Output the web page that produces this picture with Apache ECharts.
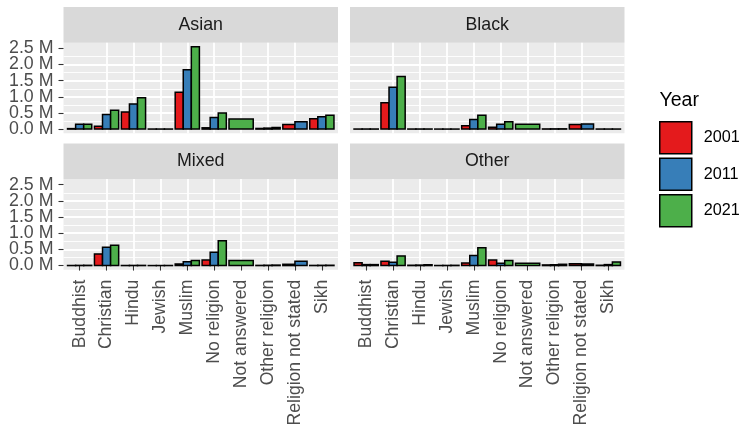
<!DOCTYPE html>
<html>
<head>
<meta charset="utf-8">
<script src="https://cdn.jsdelivr.net/npm/echarts@6/dist/echarts.min.js"></script>
<style>html,body{margin:0;padding:0;background:#fff}#c{width:743px;height:431px}</style>
</head>
<body>
<div id="c"></div>
<script>
const categories = ['Buddhist','Christian','Hindu','Jewish','Muslim','No religion','Not answered','Other religion','Religion not stated','Sikh'];
const years = ['2001','2011','2021'];
const facets = ['Asian','Black','Mixed','Other'];
const yTicks = [0, 500000, 1000000, 1500000, 2000000, 2500000];

const asian2001 = [15000, 90000, 530000, 2000, 1140000, 40000, null, 20000, 140000, 320000];
const asian2011 = [150000, 450000, 780000, 2000, 1840000, 360000, null, 30000, 230000, 380000];
const asian2021 = [150000, 580000, 970000, 2000, 2550000, 500000, 310000, 50000, null, 430000];

const black2001 = [2000, 820000, 2000, 1000, 100000, 55000, null, 5000, 140000, 2000];
const black2011 = [3000, 1300000, 3000, 1000, 300000, 150000, null, 7000, 160000, 2000];
const black2021 = [3000, 1630000, 3000, 1000, 430000, 230000, 150000, 8000, null, 2000];

const mixed2001 = [3000, 360000, 3000, 1000, 50000, 170000, null, 6000, 40000, 5000];
const mixed2011 = [6000, 570000, 5000, 2000, 120000, 410000, null, 10000, 130000, 8000];
const mixed2021 = [8000, 630000, 6000, 3000, 160000, 770000, 160000, 15000, null, 10000];

const other2001 = [90000, 130000, 10000, 3000, 80000, 170000, null, 20000, 55000, 10000];
const other2011 = [30000, 100000, 15000, 5000, 310000, 70000, null, 25000, 50000, 30000];
const other2021 = [30000, 300000, 25000, 8000, 550000, 160000, 70000, 40000, null, 110000];

const facetValues = [
  [asian2001, asian2011, asian2021],
  [black2001, black2011, black2021],
  [mixed2001, mixed2011, mixed2021],
  [other2001, other2011, other2021]
];
const yearColors = ['#E41A1C', '#377EB8', '#4DAF4A'];
const FONT = "'Liberation Sans', Arial, Helvetica, sans-serif";

// ggplot-like limits
let vmax = 0;
facetValues.forEach(f => f.forEach(a => a.forEach(v => { if (v != null && v > vmax) vmax = v; })));
const yMin = -0.05 * vmax, yMax = vmax * 1.05;
const xMin = 0.4, xMax = categories.length + 0.6;
const xTicks = categories.map((c, i) => i + 1);
const yTicksEven = yTicks.filter((t, k) => k % 2 === 0);
const yTicksOdd = yTicks.filter((t, k) => k % 2 === 1);

const panels = [
  {left: 63.5, top: 42.7, width: 274.5, height: 90.5},
  {left: 350, top: 42.7, width: 274.5, height: 90.5},
  {left: 63.5, top: 179, width: 274.5, height: 90.7},
  {left: 350, top: 179, width: 274.5, height: 90.7}
];
const stripH = 35.6;
const yLabelStyle = {margin: 10, fontSize: 17.8, color: '#4D4D4D', fontFamily: FONT, hideOverlap: false,
  formatter: v => (v / 1e6).toFixed(1) + ' M'};

const grids = [], xAxes = [], yAxes = [], series = [], graphics = [];
panels.forEach((p, i) => {
  const isLeft = i % 2 === 0, isBottom = i >= 2;
  grids.push({left: p.left, top: p.top, width: p.width, height: p.height, show: true, backgroundColor: '#EBEBEB', borderWidth: 0, containLabel: false});
  xAxes.push({
    type: 'value', gridIndex: i, min: xMin, max: xMax, splitNumber: 10,
    axisLine: {show: false},
    axisTick: {show: isBottom, length: 5, customValues: xTicks, lineStyle: {color: '#333333', width: 1.1}},
    axisLabel: {show: isBottom, customValues: xTicks, rotate: 90, margin: 10, fontSize: 17.6, color: '#4D4D4D', fontFamily: FONT,
      hideOverlap: false,
      formatter: v => categories[Math.round(v) - 1] || ''},
    splitLine: {show: true, showMinLine: false, showMaxLine: false, lineStyle: {color: '#FFFFFF', width: 1.8}}
  });
  const mainY = yAxes.length;
  yAxes.push({
    type: 'value', gridIndex: i, min: yMin, max: yMax, splitNumber: 5, position: 'left',
    axisLine: {show: false},
    axisTick: {show: isLeft, length: 5, customValues: yTicks, lineStyle: {color: '#333333', width: 1.1}},
    axisLabel: Object.assign({show: isLeft, customValues: yTicksEven}, yLabelStyle),
    splitLine: {show: true, showMinLine: false, showMaxLine: false, lineStyle: {color: '#FFFFFF', width: 1.8}},
    minorTick: {show: false, splitNumber: 2},
    minorSplitLine: {show: true, lineStyle: {color: '#FFFFFF', width: 0.9}}
  });
  // second left axis in the same panel carrying the other half of the tick labels
  yAxes.push({
    type: 'value', gridIndex: i, min: yMin, max: yMax, splitNumber: 5, position: 'left', offset: 0,
    axisLine: {show: false}, axisTick: {show: false}, splitLine: {show: false},
    axisLabel: Object.assign({show: isLeft, customValues: yTicksOdd}, yLabelStyle)
  });
  // strip
  graphics.push({type: 'rect', shape: {x: p.left, y: p.top - stripH, width: p.width, height: stripH}, style: {fill: '#D9D9D9'}, silent: true});
  graphics.push({type: 'text', x: p.left + p.width / 2, y: p.top - stripH / 2, style: {text: facets[i], fill: '#1A1A1A', font: '17.8px ' + FONT, align: 'center', verticalAlign: 'middle'}, silent: true});

  const vals = facetValues[i];
  years.forEach((yr, yi) => {
    const data = [];
    categories.forEach((c, ci) => {
      const v = vals[yi][ci];
      if (v == null) return;
      const present = [0, 1, 2].filter(k => vals[k][ci] != null);
      data.push([ci + 1, v, present.indexOf(yi), present.length]);
    });
    series.push({
      type: 'custom', name: yr, xAxisIndex: i, yAxisIndex: mainY, data: data,
      itemStyle: {color: yearColors[yi], borderColor: '#000', borderWidth: 1.5},
      encode: {x: 0, y: 1},
      renderItem: (params, api) => {
        const x = api.value(0), v = api.value(1), slot = api.value(2), n = api.value(3);
        const w = 0.9 / n;
        const x0 = x - 0.45 + slot * w;
        const a = api.coord([x0, v]);
        const b = api.coord([x0 + w, 0]);
        return {type: 'rect', shape: {x: a[0], y: a[1], width: b[0] - a[0], height: b[1] - a[1]},
          style: {fill: yearColors[yi], stroke: '#000', lineWidth: 1.5}};
      }
    });
  });
});

graphics.push({type: 'text', x: 659.5, y: 100.5, style: {text: 'Year', fill: '#000', font: '19.5px ' + FONT, align: 'left', verticalAlign: 'middle'}, silent: true});

const chart = echarts.init(document.getElementById('c'), null, {renderer: 'canvas'});
chart.setOption({
  animation: false,
  backgroundColor: '#FFFFFF',
  grid: grids, xAxis: xAxes, yAxis: yAxes, series: series,
  legend: {
    data: years.map((y, i) => ({name: y, icon: 'rect', itemStyle: {color: yearColors[i], borderColor: '#000', borderWidth: 1.5}})),
    orient: 'vertical', left: 659, top: 121, itemWidth: 32, itemHeight: 32, itemGap: 3,
    selectedMode: false, padding: 0,
    textStyle: {fontSize: 16.2, color: '#000', fontFamily: FONT, padding: [0, 0, 0, 7]}
  },
  graphic: graphics
});
</script>
</body>
</html>
